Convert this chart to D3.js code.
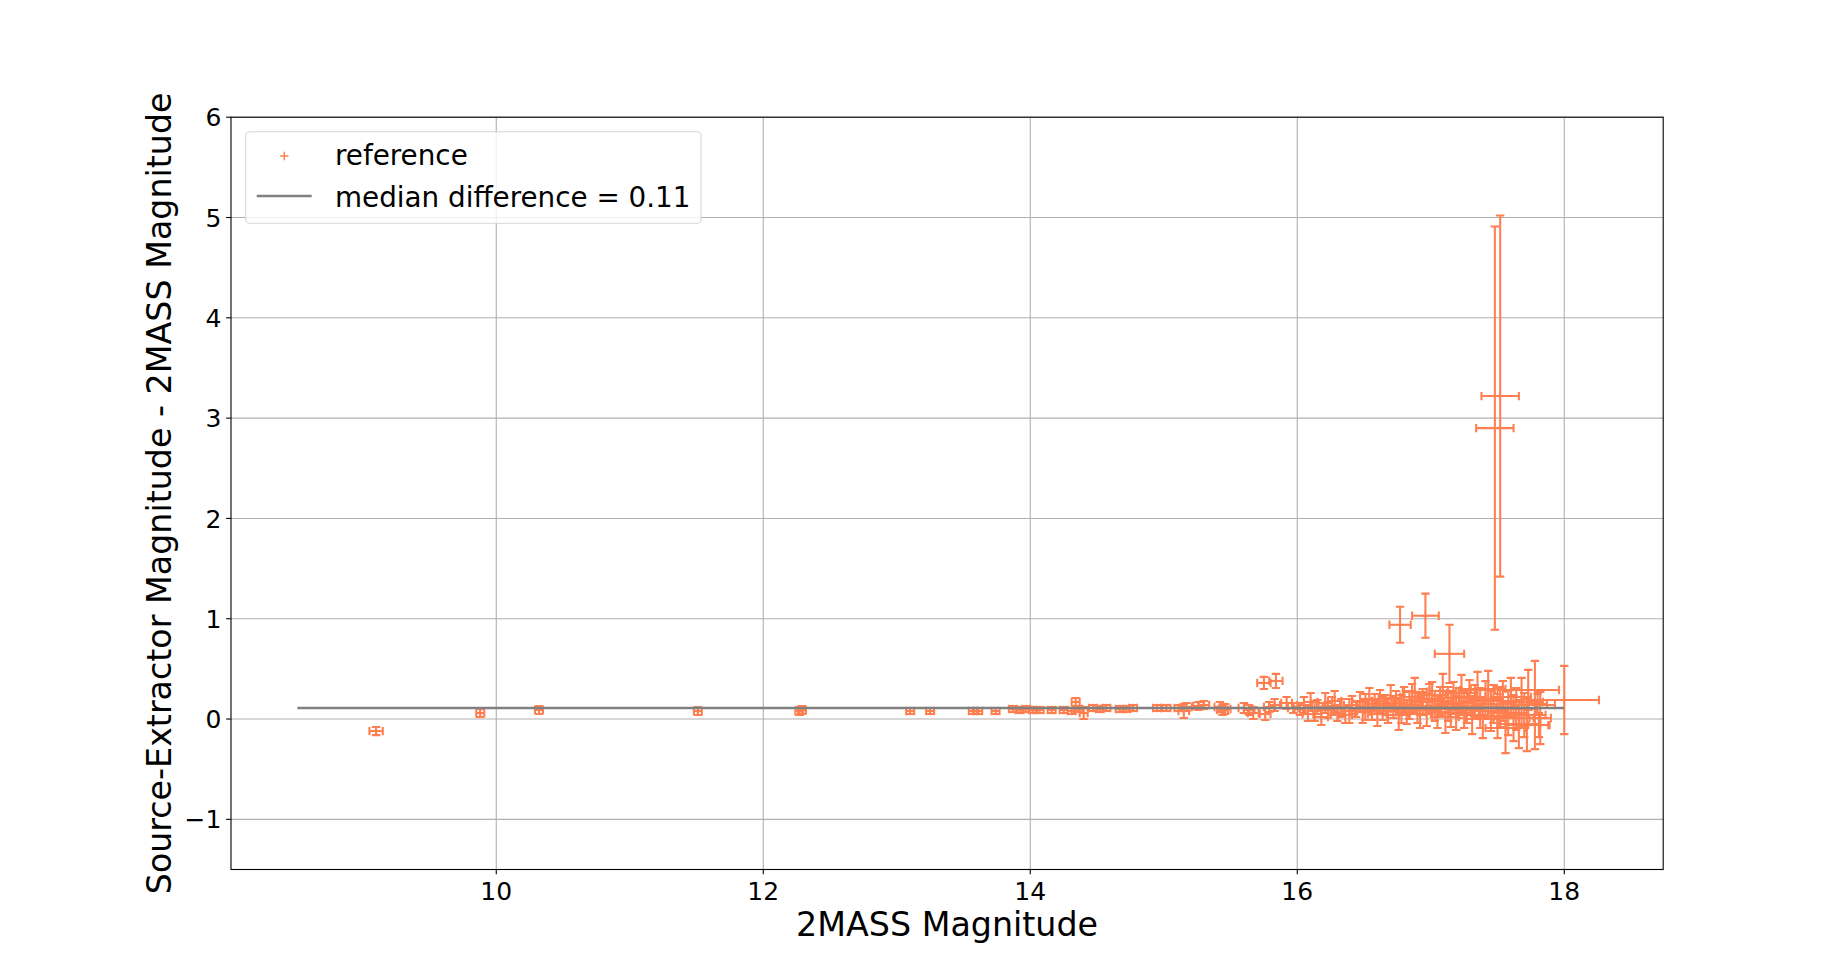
<!DOCTYPE html>
<html>
<head>
<meta charset="utf-8">
<script src="https://cdn.jsdelivr.net/npm/d3@7"></script>
<style>
    body { margin: 0; background: #ffffff; }
    text { font-family: "DejaVu Sans", sans-serif; }
</style>
</head>
<body>
<svg id="chart" width="1848" height="977"></svg>
<script>
// 2MASS magnitude, difference and their errors
let magX = [
    9.10, 9.88, 10.32, 11.51, 12.27, 12.29, 13.10, 13.25, 13.57, 13.61,
    13.74, 13.87, 13.92, 13.97, 14.02, 14.07, 14.16, 14.25, 14.31, 14.34,
    14.36, 14.40, 14.47, 14.52, 14.57, 14.67, 14.72, 14.77, 14.95, 15.02,
    15.11, 15.15, 15.17, 15.26, 15.30, 15.42, 15.44, 15.46, 15.60, 15.64,
    15.67, 15.75, 15.84, 15.76, 15.79, 15.83, 15.92, 15.97,
    16.02, 16.05, 16.08, 16.10, 16.13, 16.15, 16.18, 16.21, 16.23, 16.26,
    16.28, 16.30, 16.33, 16.36, 16.39, 16.41, 16.44, 16.47, 16.49, 16.51,
    16.54, 16.56, 16.58, 16.60, 16.62, 16.64, 16.66, 16.68, 16.70, 16.72,
    16.74, 16.76, 16.78, 16.80, 16.82, 16.84, 16.86, 16.88, 16.90, 16.92,
    16.94, 16.97, 16.99, 17.01, 17.03, 17.05, 17.07, 17.09, 17.11, 17.13,
    17.15, 17.17, 17.19, 17.21, 17.23, 17.25, 17.27, 17.29, 17.31, 17.33,
    17.35, 17.37, 17.39, 17.41, 17.43, 17.45, 17.47, 17.50, 17.52, 17.54,
    17.56, 17.58, 17.60, 17.62, 17.64, 17.66, 17.68, 17.70, 17.72, 17.73,
    17.78, 17.82, 17.80, 17.81, 18.00,
    16.77, 16.96, 17.14, 17.52, 17.48
];
let diffY = [
    -0.12, 0.06, 0.09, 0.08, 0.08, 0.09, 0.08, 0.08, 0.08, 0.08,
    0.08, 0.10, 0.09, 0.10, 0.09, 0.09, 0.09, 0.09, 0.08, 0.17,
    0.10, 0.06, 0.11, 0.10, 0.11, 0.10, 0.10, 0.11, 0.11, 0.11,
    0.11, 0.08, 0.12, 0.13, 0.14, 0.12, 0.09, 0.10, 0.11, 0.09,
    0.06, 0.36, 0.38, 0.05, 0.12, 0.14, 0.16, 0.11,
    0.10, 0.14, 0.05, 0.17, 0.08, 0.12, 0.02, 0.16, 0.09, 0.13,
    0.18, 0.06, 0.11, 0.04, 0.08, 0.14, 0.10, 0.17, 0.07, 0.12,
    0.20, 0.09, 0.15, 0.05, 0.18, 0.11, 0.14, 0.08, 0.21, 0.12,
    0.16, 0.04, 0.10, 0.19, 0.07, 0.14, 0.22, 0.27, 0.11, 0.05,
    0.17, 0.09, 0.20, 0.24, 0.13, 0.07, 0.18, 0.28, 0.02, 0.15,
    0.10, 0.21, 0.06, 0.16, 0.26, 0.09, 0.13, 0.22, 0.04, 0.18,
    0.29, 0.11, 0.00, 0.20, 0.30, 0.08, 0.15, 0.03, 0.12, 0.18,
    -0.09, 0.06, 0.22, 0.01, 0.10, -0.05, 0.17, 0.04, -0.06, 0.29,
    0.14, 0.01, 0.15, -0.06, 0.19,
    0.94, 1.03, 0.65, 3.22, 2.90
];
let magErr = [
    0.05, 0.03, 0.03, 0.03, 0.03, 0.03, 0.03, 0.03, 0.03, 0.03,
    0.03, 0.03, 0.03, 0.03, 0.03, 0.03, 0.03, 0.03, 0.03, 0.03,
    0.03, 0.03, 0.03, 0.03, 0.03, 0.03, 0.03, 0.03, 0.03, 0.03,
    0.03, 0.04, 0.04, 0.04, 0.04, 0.04, 0.04, 0.04, 0.04, 0.04,
    0.04, 0.05, 0.05, 0.04, 0.04, 0.04, 0.04, 0.04,
    0.04, 0.05, 0.04, 0.05, 0.05, 0.04, 0.05, 0.05, 0.05, 0.06,
    0.05, 0.05, 0.06, 0.05, 0.06, 0.06, 0.05, 0.06, 0.06, 0.06,
    0.07, 0.06, 0.07, 0.07, 0.06, 0.07, 0.07, 0.07, 0.08, 0.07,
    0.08, 0.08, 0.08, 0.08, 0.08, 0.08, 0.09, 0.09, 0.09, 0.08,
    0.09, 0.09, 0.09, 0.10, 0.10, 0.09, 0.10, 0.10, 0.10, 0.10,
    0.11, 0.11, 0.11, 0.11, 0.11, 0.12, 0.12, 0.12, 0.12, 0.12,
    0.13, 0.12, 0.13, 0.13, 0.13, 0.13, 0.14, 0.14, 0.14, 0.14,
    0.15, 0.15, 0.15, 0.15, 0.15, 0.16, 0.16, 0.16, 0.16, 0.23,
    0.15, 0.08, 0.07, 0.08, 0.26,
    0.08, 0.10, 0.11, 0.14, 0.14
];
let diffErr = [
    0.04, 0.04, 0.04, 0.04, 0.04, 0.04, 0.03, 0.03, 0.03, 0.03,
    0.03, 0.03, 0.03, 0.03, 0.03, 0.03, 0.03, 0.03, 0.03, 0.04,
    0.03, 0.06, 0.03, 0.03, 0.03, 0.03, 0.03, 0.03, 0.03, 0.03,
    0.03, 0.07, 0.04, 0.04, 0.04, 0.05, 0.05, 0.05, 0.05, 0.05,
    0.06, 0.06, 0.07, 0.06, 0.05, 0.06, 0.06, 0.05,
    0.06, 0.08, 0.07, 0.09, 0.10, 0.07, 0.08, 0.10, 0.08, 0.09,
    0.10, 0.08, 0.09, 0.08, 0.12, 0.09, 0.08, 0.10, 0.11, 0.13,
    0.11, 0.10, 0.10, 0.12, 0.11, 0.12, 0.10, 0.12, 0.13, 0.11,
    0.12, 0.15, 0.14, 0.13, 0.12, 0.14, 0.13, 0.14, 0.15, 0.14,
    0.13, 0.16, 0.15, 0.13, 0.15, 0.16, 0.14, 0.17, 0.16, 0.17,
    0.18, 0.16, 0.17, 0.15, 0.18, 0.18, 0.17, 0.17, 0.19, 0.16,
    0.18, 0.20, 0.19, 0.18, 0.18, 0.20, 0.19, 0.22, 0.20, 0.20,
    0.25, 0.22, 0.19, 0.23, 0.21, 0.24, 0.24, 0.22, 0.26, 0.20,
    0.44, 0.26, 0.10, 0.12, 0.34,
    0.18, 0.22, 0.29, 1.80, 2.01
];

let medianDiff = 0.11;
let medianRange = [8.51, 18.0];
let xTicks = [10, 12, 14, 16, 18];
let yTicks = [-1, 0, 1, 2, 3, 4, 5, 6];

let coral = "#ff7f50";
let svg = d3.select("#chart");

let axLeft = 231, axRight = 1663.2, axTop = 117.2, axBottom = 869.5;
let x = d3.scaleLinear().domain([8.013, 18.741]).range([axLeft, axRight]);
let y = d3.scaleLinear().domain([-1.5, 6]).range([axBottom, axTop]);

// grid
svg.append("g")
    .selectAll("line")
    .data(xTicks)
    .enter()
    .append("line")
    .attr("x1", d => x(d)).attr("x2", d => x(d))
    .attr("y1", axTop).attr("y2", axBottom)
    .attr("stroke", "#b0b0b0").attr("stroke-width", 1.1);
svg.append("g")
    .selectAll("line")
    .data(yTicks)
    .enter()
    .append("line")
    .attr("x1", axLeft).attr("x2", axRight)
    .attr("y1", d => y(d)).attr("y2", d => y(d))
    .attr("stroke", "#b0b0b0").attr("stroke-width", 1.1);

// error bars
let pts = magX.map((m, i) => ({ m: m, d: diffY[i], me: magErr[i], de: diffErr[i] }));
let cap = 4.17;
let eb = svg.append("g")
    .attr("stroke", coral)
    .attr("stroke-width", 2.08)
    .attr("fill", "none");

let g = eb.selectAll("g")
    .data(pts)
    .enter()
    .append("g");

g.append("line")
    .attr("x1", d => x(d.m - d.me)).attr("x2", d => x(d.m + d.me))
    .attr("y1", d => y(d.d)).attr("y2", d => y(d.d));
g.append("line")
    .attr("x1", d => x(d.m)).attr("x2", d => x(d.m))
    .attr("y1", d => y(d.d - d.de)).attr("y2", d => y(d.d + d.de));
// caps
g.append("path")
    .attr("d", d => {
        let x0 = x(d.m - d.me), x1 = x(d.m + d.me), yy = y(d.d);
        let y0 = y(d.d - d.de), y1 = y(d.d + d.de), xx = x(d.m);
        return `M${x0},${yy - cap}V${yy + cap}M${x1},${yy - cap}V${yy + cap}` +
               `M${xx - cap},${y0}H${xx + cap}M${xx - cap},${y1}H${xx + cap}`;
    });
// '+' markers
g.append("path")
    .attr("stroke-width", 1.39)
    .attr("d", d => {
        let xx = x(d.m), yy = y(d.d);
        return `M${xx - 4.17},${yy}H${xx + 4.17}M${xx},${yy - 4.17}V${yy + 4.17}`;
    });

// median line
svg.append("line")
    .attr("x1", x(medianRange[0])).attr("x2", x(medianRange[1]))
    .attr("y1", y(medianDiff)).attr("y2", y(medianDiff))
    .attr("stroke", "#808080").attr("stroke-width", 2.5);

// spines
svg.append("rect")
    .attr("x", axLeft).attr("y", axTop)
    .attr("width", axRight - axLeft).attr("height", axBottom - axTop)
    .attr("fill", "none").attr("stroke", "black").attr("stroke-width", 1.1);

// ticks
let xt = svg.append("g").selectAll("g").data(xTicks).enter().append("g");
xt.append("line")
    .attr("x1", d => x(d)).attr("x2", d => x(d))
    .attr("y1", axBottom).attr("y2", axBottom + 4.86)
    .attr("stroke", "black").attr("stroke-width", 1.1);
xt.append("text")
    .attr("x", d => x(d)).attr("y", 899.5)
    .attr("text-anchor", "middle")
    .attr("font-size", 25)
    .text(d => d);

let yt = svg.append("g").selectAll("g").data(yTicks).enter().append("g");
yt.append("line")
    .attr("x1", axLeft - 4.86).attr("x2", axLeft)
    .attr("y1", d => y(d)).attr("y2", d => y(d))
    .attr("stroke", "black").attr("stroke-width", 1.1);
yt.append("text")
    .attr("x", 221.3).attr("y", d => y(d) + 9.1)
    .attr("text-anchor", "end")
    .attr("font-size", 25)
    .text(d => d < 0 ? "\u2212" + Math.abs(d) : d);

// axis labels
svg.append("text")
    .attr("x", (axLeft + axRight) / 2).attr("y", 936)
    .attr("text-anchor", "middle")
    .attr("font-size", 33.3)
    .text("2MASS Magnitude");
svg.append("text")
    .attr("transform", `translate(170.5, ${(axTop + axBottom) / 2}) rotate(-90)`)
    .attr("text-anchor", "middle")
    .attr("font-size", 33.3)
    .text("Source-Extractor Magnitude - 2MASS Magnitude");

// legend
let lg = svg.append("g");
lg.append("rect")
    .attr("x", 245.7).attr("y", 131.7)
    .attr("width", 455.3).attr("height", 91.6)
    .attr("rx", 3.9)
    .attr("fill", "white").attr("fill-opacity", 0.8)
    .attr("stroke", "#cccccc").attr("stroke-opacity", 0.8).attr("stroke-width", 1.1);
lg.append("path")
    .attr("d", "M280.1,156H288.5M284.3,151.8V160.2")
    .attr("stroke", coral).attr("stroke-width", 1.39);
lg.append("line")
    .attr("x1", 256.7).attr("x2", 311.7)
    .attr("y1", 196).attr("y2", 196)
    .attr("stroke", "#808080").attr("stroke-width", 2.5);
lg.append("text")
    .attr("x", 335).attr("y", 164.5)
    .attr("font-size", 27.8)
    .text("reference");
lg.append("text")
    .attr("x", 335).attr("y", 206.5)
    .attr("font-size", 27.8)
    .text("median difference = " + medianDiff);
</script>
</body>
</html>
